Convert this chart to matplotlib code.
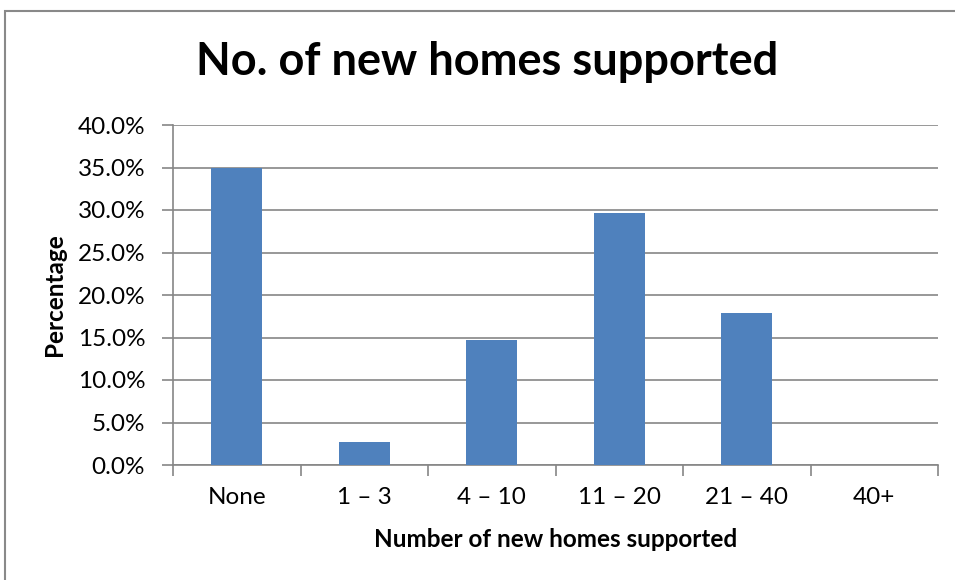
import matplotlib.pyplot as plt
from matplotlib.patches import Rectangle
from matplotlib.ticker import FuncFormatter, MultipleLocator

categories = ["None", "1 \u2013 3", "4 \u2013 10", "11 \u2013 20", "21 \u2013 40", "40+"]
percentages = [35.0, 2.7, 14.7, 29.7, 17.9, 0.0]

plt.rcParams["font.family"] = ["Lato", "DejaVu Sans"]

fig = plt.figure(figsize=(9.55, 5.8), dpi=100)
fig.patches.append(Rectangle((5 / 955, -0.05), 1.1, 1.05 - 11 / 580, transform=fig.transFigure,
                             fill=False, edgecolor="#898989", linewidth=1.5))
ax = fig.add_axes([173 / 955, 1 - 465 / 580, 765 / 955, 340 / 580])

x = range(len(categories))
ax.bar(x, percentages, width=0.4, color="#4f81bd", zorder=3)
ax.set_xlim(-0.5, len(categories) - 0.5)
ax.set_ylim(0, 40)
ax.yaxis.set_major_locator(MultipleLocator(5))
ax.yaxis.set_major_formatter(FuncFormatter(lambda v, _: f"{v:.1f}%"))
ax.grid(axis="y", color="#868686", linewidth=1.2, zorder=0)
ax.set_xticks([i - 0.5 for i in range(len(categories) + 1)], minor=False)
ax.set_xticklabels([])
ax.set_xticks(list(x), minor=True)
ax.set_xticklabels(categories, minor=True)
ax.tick_params(axis="x", which="minor", length=0, pad=16, labelsize=17.5)
ax.tick_params(axis="x", which="major", length=8, color="#868686", width=1.2)
ax.tick_params(axis="y", length=8, color="#868686", width=1.2, labelsize=17.5, pad=12)
for side in ("top", "right"):
    ax.spines[side].set_visible(False)
for side in ("left", "bottom"):
    ax.spines[side].set_color("#868686")
    ax.spines[side].set_linewidth(1.2)

ax.set_xlabel("Number of new homes supported", fontsize=17.5, fontweight="bold", labelpad=14)
ax.set_ylabel("Percentage", fontsize=17.5, fontweight="bold", labelpad=8)
fig.text(487 / 955, 1 - 62 / 580, "No. of new homes supported", ha="center", va="center",
         fontsize=32.5, fontweight="bold")

fig.savefig("out.png", dpi=100)
